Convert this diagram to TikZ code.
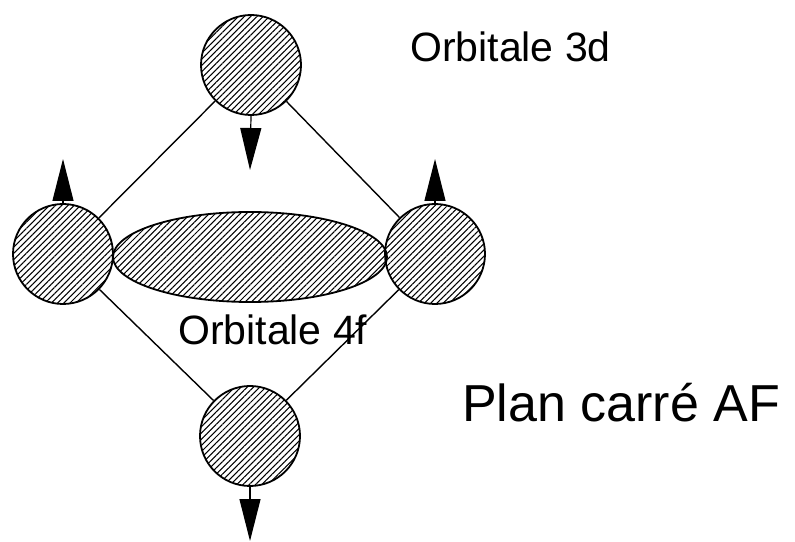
\documentclass[tikz,border=0pt]{standalone}
\usepackage{fontspec}
\setmainfont{Liberation Sans}
\usetikzlibrary{shapes.geometric,patterns.meta,arrows.meta}
\begin{document}
\begin{tikzpicture}[x=1pt,y=1pt,
  hatch/.style={pattern={Lines[angle=45,distance=4.4pt,line width=1.05pt]}},
  orb/.style={circle,draw,line width=1.8pt,minimum size=100pt,inner sep=0pt,hatch},
  lobe/.style={ellipse,draw,line width=1.8pt,minimum width=274pt,minimum height=90pt,inner sep=0pt,hatch},
  bond/.style={line width=1.4pt},
  spin/.style={line width=1.2pt,-{Triangle[length=42pt,width=21pt]}},
  lbl/.style={anchor=base west,inner sep=0pt,font=\fontsize{41}{45}\selectfont},
  big/.style={anchor=base west,inner sep=0pt,font=\fontsize{52}{56}\selectfont}]
\useasboundingbox (0,0) rectangle (795,541);
\node[lobe] (f) at (250,284) {};
\node[orb] (top) at (251,476) {};
\node[orb] (left) at (63,287) {};
\node[orb] (right) at (435,287) {};
\node[orb] (bot) at (250,105) {};
\draw[bond] (top) -- (left);
\draw[bond] (top) -- (right);
\draw[bond] (left) -- (bot);
\draw[bond] (right) -- (bot);
\coordinate (ttip) at (250,371);
\coordinate (ltip) at (63,382);
\coordinate (rtip) at (435,382);
\coordinate (btip) at (250,0);
\draw[spin] (top.south) -- (ttip);
\draw[spin] (left.north) -- (ltip);
\draw[spin] (right.north) -- (rtip);
\draw[spin] (bot.south) -- (btip);
\node[lbl] (t3d) at (410,479) {Orbitale 3d};
\node[lbl] (t4f) at (178,196) {Orbitale 4f};
\node[big] (tpc) at (462,119) {Plan carré AF};
\end{tikzpicture}
\end{document}
